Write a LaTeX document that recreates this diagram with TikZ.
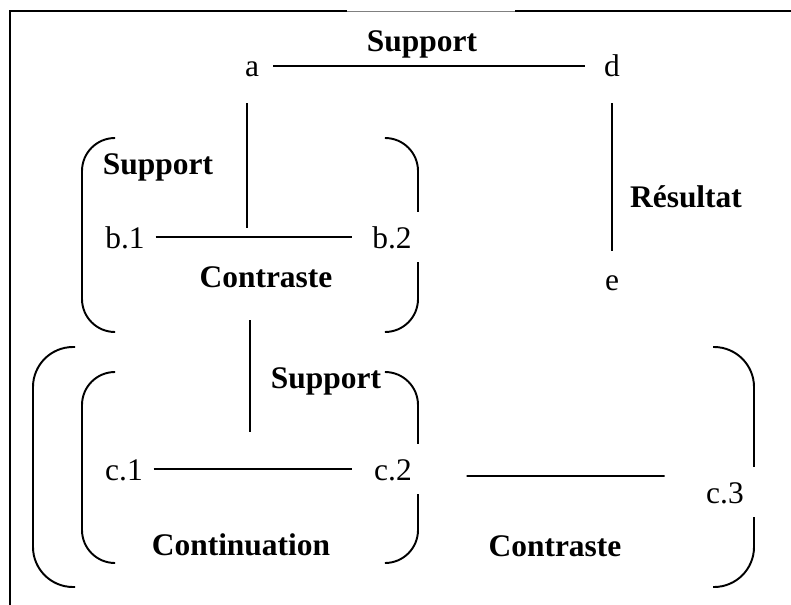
\documentclass[tikz,border=0pt]{standalone}
\usepackage{fontspec}
\setmainfont{Liberation Serif}

\begin{document}
\begin{tikzpicture}[
    x=0.02cm, y=-0.02cm,
    lbl/.style={inner sep=0.21cm, text height=0.44cm, text depth=0pt, font=\fontsize{17.9}{21}\selectfont},
    tag/.style={lbl, font=\fontsize{17.9}{21}\selectfont\bfseries},
    cut/.style={lbl, fill=white, minimum height=1cm},
    line/.style={draw, line width=1.1pt},
    paren/.style={draw, line width=1.1pt, rounded corners=0.66cm},
    wide/.style={paren, rounded corners=0.8cm}
]
    \useasboundingbox (0,0) rectangle (791,605);

    % Frame (open on the right and bottom)
    \draw [line width=1.1pt] (10,605) -- (10,11) -- (347,11);
    \draw [gray, line width=0.5pt] (347,11) -- (515,11);
    \draw [line width=1.1pt] (515,11) -- (791,11);

    % Brackets
    \path [paren] (115,138) -- (82,138) -- (82,332) -- (115,332);
    \path [paren] (387,138) -- (418,138) -- (418,332) -- (387,332);
    \path [paren] (115,372) -- (82,372) -- (82,563) -- (115,563);
    \path [paren] (387,372) -- (418,372) -- (418,563) -- (387,563);
    \path [wide] (75,347) -- (33,347) -- (33,587) -- (75,587);
    \path [wide] (713,347) -- (754,347) -- (754,587) -- (713,587);

    % Top level
    \node [lbl] (a) at (252,66) {a};
    \node [lbl] (d) at (612,66) {d};
    \node [lbl] (e) at (612,279) {e};
    \node [tag] (supad) at (422,41) {Support};
    \node [tag] (result) at (686,196) {Résultat};

    % Group b
    \node [lbl] (b1) at (125,237) {b.1};
    \node [cut] (b2) at (392,237) {b.2};
    \node [tag] (supb) at (158,164) {Support};
    \node [tag] (contb) at (266,276) {Contraste};

    % Group c
    \node [lbl] (c1) at (124,469) {c.1};
    \node [cut] (c2) at (393,469) {c.2};
    \node [cut, minimum width=1.4cm] (c3) at (725,492) {c.3};
    \node [tag] (supc) at (326,377) {Support};
    \node [tag] (contin) at (241,544) {Continuation};
    \node [tag] (contc) at (555,545) {Contraste};

    \coordinate (bjoin) at (247,236);
    \coordinate (cjoin) at (250,467);

    % Connections
    \path [line, shorten <=0.07cm, shorten >=0.17cm] (a) -- (d);
    \path [line, shorten <=0.31cm, shorten >=0.13cm] (d) -- (e);
    \path [line, shorten <=0.31cm, shorten >=0.16cm] (a.south -| bjoin) -- (bjoin);
    \path [line, shorten >=0.2cm] (b1) -- (b2);
    \path [line, shorten <=0.45cm, shorten >=0.7cm] (contb.south -| cjoin) -- (cjoin);
    \path [line, shorten >=0.22cm] (c1) -- (c2);
    \path [line, shorten <=0.88cm, shorten >=0.5cm] ([yshift=-0.14cm]c2.east) -- ([yshift=0.32cm]c3.west);

\end{tikzpicture}
\end{document}
